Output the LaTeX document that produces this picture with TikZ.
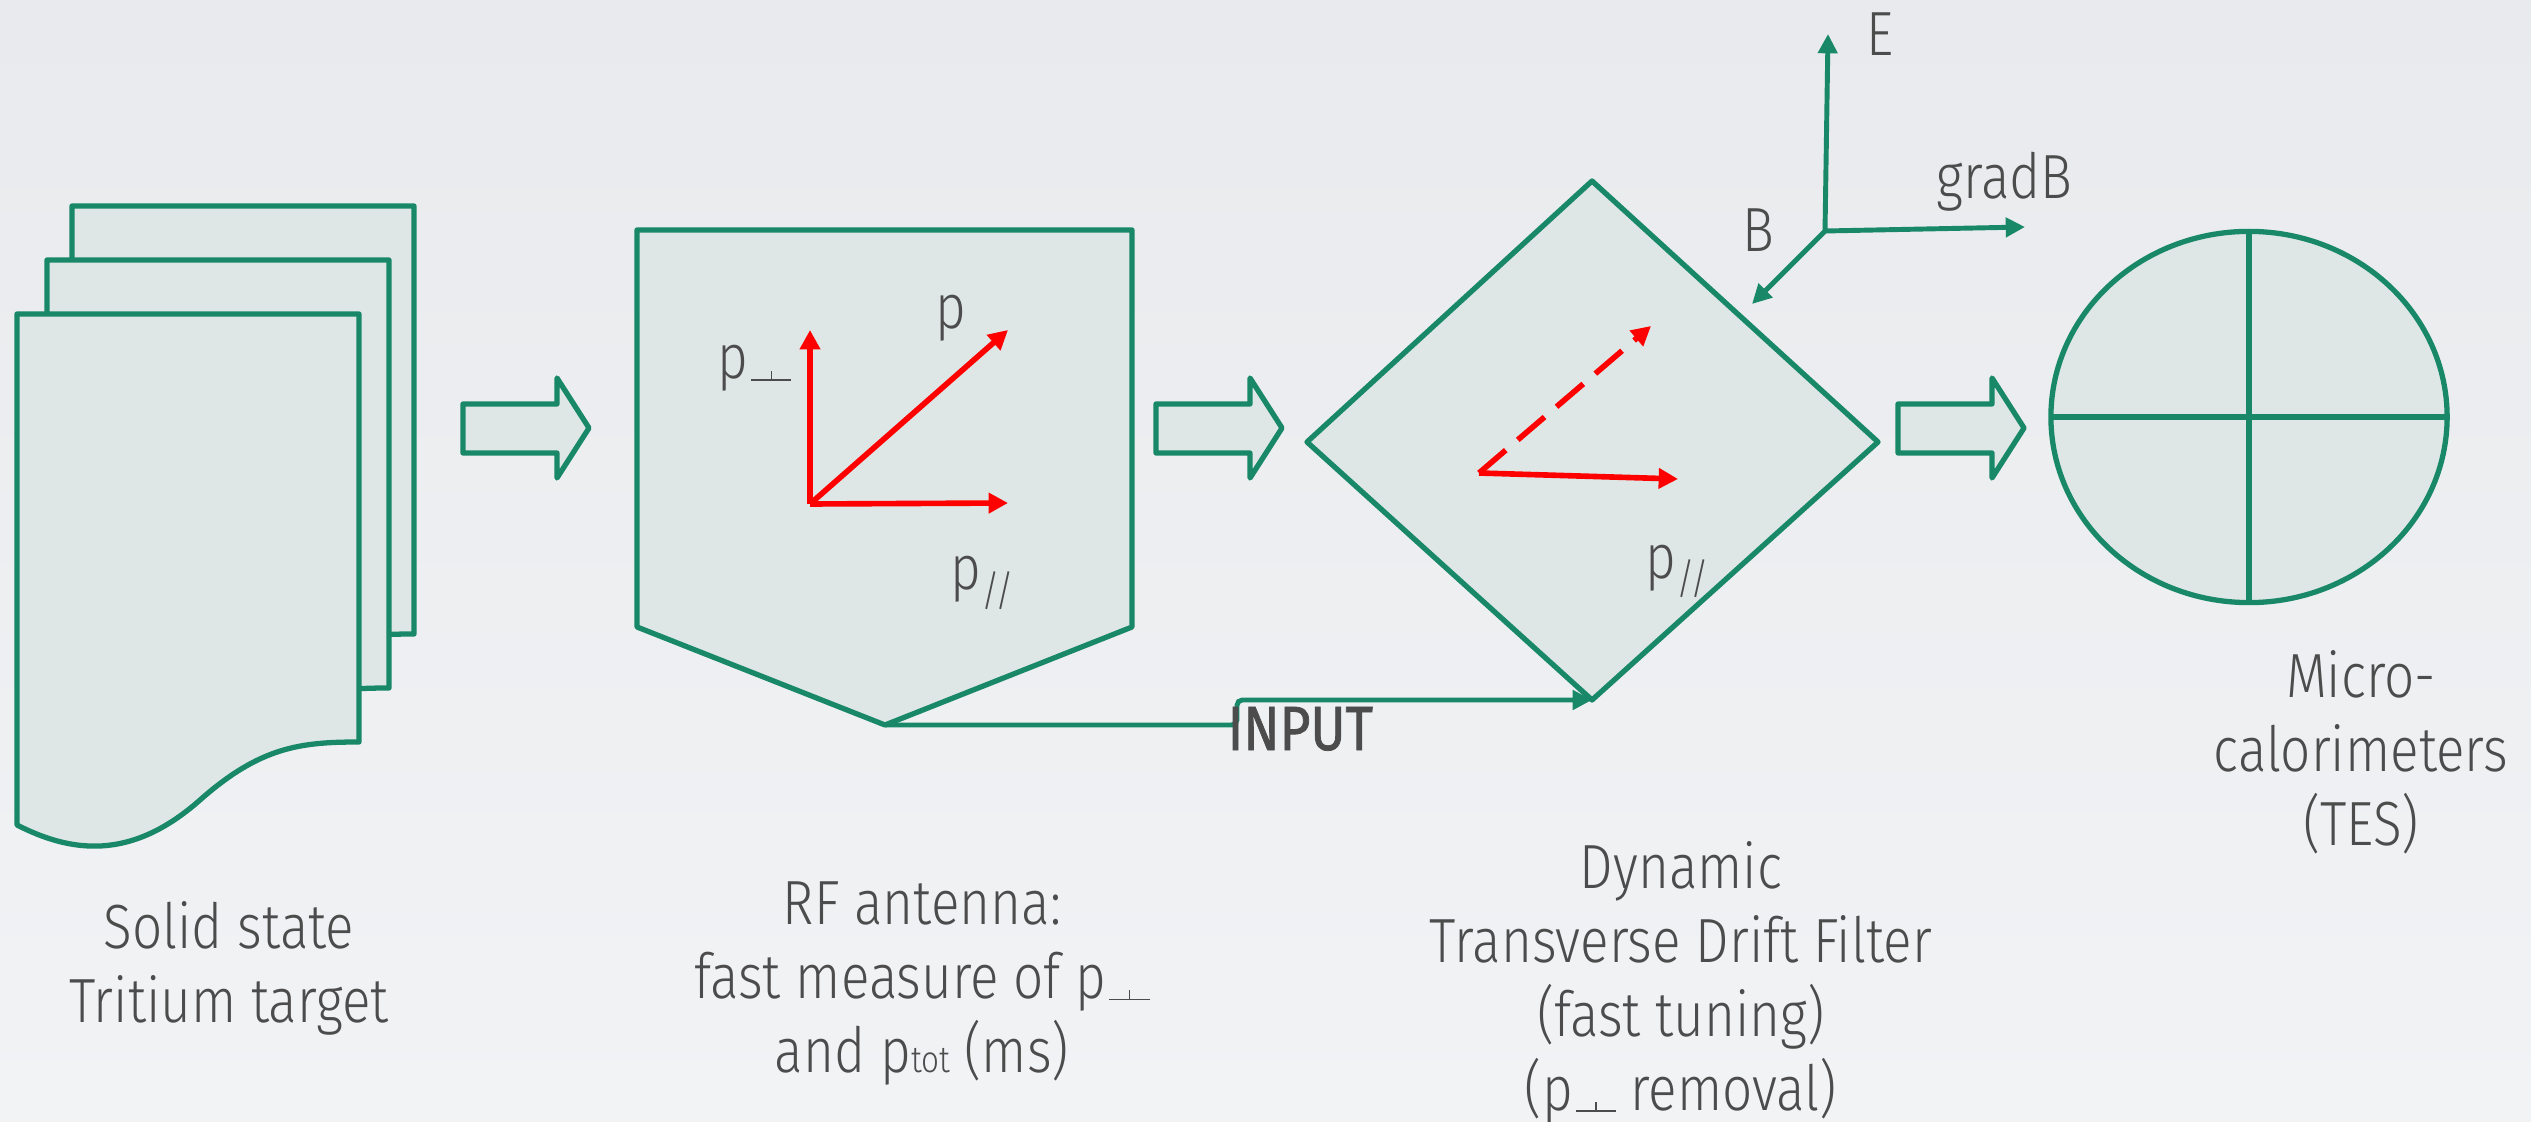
\documentclass[tikz,border=0pt]{standalone}
\usepackage{fontspec}
\setmainfont{Fira Sans Light}[FakeStretch=0.85]
\newfontfamily\medfont{Fira Sans}[FakeStretch=0.85, FakeBold=1.2]
\usepackage{graphicx}
\usetikzlibrary{arrows.meta}
\definecolor{tgreen}{RGB}{24,136,104}
\definecolor{tfill}{RGB}{222,231,229}
\definecolor{tred}{RGB}{255,0,0}
\definecolor{tgray}{RGB}{76,76,76}
\definecolor{bgtop}{RGB}{232,234,237}
\definecolor{bgbot}{RGB}{242,243,245}
\newcommand\pperp{\kern0.8pt\raisebox{-0.6pt}{\rlap{\rule{11.4pt}{0.5pt}}\kern5.45pt\rule{0.5pt}{3pt}\kern5.45pt}}
\newcommand\ppar{\raisebox{-4.5pt}{\fontsize{12}{12}\selectfont //}}
\newcommand\ptot{p{\fontsize{10.5}{10.5}\selectfont tot}}
\begin{document}
\begin{tikzpicture}[x=0.01cm,y=-0.01cm,
  shapebox/.style={draw=tgreen, fill=tfill, line width=1.5pt, line join=round},
  redarrow/.style={draw=tred, line width=1.6pt, -{Triangle[length=5.5pt,width=5.6pt]}},
  garrow/.style={draw=tgreen, line width=1.4pt, -{Triangle[length=5.5pt,width=5.4pt]}},
  lbl/.style={text=tgray, font=\fontsize{17.75}{21}\selectfont, inner sep=0pt},
  caption/.style={lbl, align=center, anchor=base}]
\useasboundingbox (0,0) rectangle (2531,1122);
\shade[top color=bgtop, bottom color=bgbot] (0,0) rectangle (2531,1122);

% stacked documents
\foreach \dx/\dy in {55/-108, 30/-54, 0/0}{
  \begin{scope}[shift={(\dx,\dy)}]
    \draw[shapebox] (17,314) -- (359,314) -- (359,742)
      .. controls (300,742) and (260,747) .. (200,800)
      .. controls (130,862) and (70,852) .. (17,825) -- cycle;
  \end{scope}
}

% block arrows
\foreach \sx in {0, 693, 1435}{
  \begin{scope}[shift={(\sx,0)}]
    \draw[shapebox] (463,404) -- (557,404) -- (557,378) -- (589,428)
      -- (557,478) -- (557,453) -- (463,453) -- cycle;
  \end{scope}
}

% RF antenna pentagon
\draw[shapebox] (637,230) -- (1132,230) -- (1132,627) -- (885,725) -- (637,627) -- cycle;
\coordinate (pentTip) at (885,725);
\coordinate (o1) at (810,504);
\coordinate (pperpT) at (810,330);
\coordinate (pT) at (1008,330);
\coordinate (pparT) at (1008,503);
\draw[redarrow] (o1) -- (pperpT);
\draw[redarrow] (o1) -- (pT);
\draw[redarrow] (o1) -- (pparT);
\node[lbl, anchor=base west] (lpperp) at (717,379) {p\pperp};
\node[lbl, anchor=base west] (lp) at (935,329) {p};
\node[lbl, anchor=base west] (lppar) at (950,590) {p\ppar};

% diamond filter
\draw[shapebox] (1307,442) -- (1592,181) -- (1878,442) -- (1592,700) -- cycle;
\coordinate (diaBot) at (1592,700);
\coordinate (o2) at (1479,473);
\coordinate (dashT) at (1651,326);
\coordinate (solT) at (1678,479);
\draw[redarrow, dash pattern=on 10pt off 4.5pt] (o2) -- (dashT);
\draw[redarrow] (o2) -- (solT);
\node[lbl, anchor=base west] (lppar2) at (1645,578) {p\ppar};

% INPUT connector
\coordinate (stepA) at (1237,725);
\coordinate (stepB) at (1237,700);
\draw[garrow, rounded corners=1.5pt] (pentTip) -- (stepA) -- (stepB) -- (diaBot);
\node[lbl, anchor=base west, font=\medfont\fontsize{17.75}{21}\selectfont] (input) at (1227,750) {INPUT};

% field axes
\coordinate (axo) at (1825,231);
\coordinate (axE) at (1828,34);
\coordinate (axG) at (2025,227);
\coordinate (axB) at (1752,304);
\draw[garrow] (axo) -- (axE);
\draw[garrow] (axo) -- (axG);
\draw[garrow] (axo) -- (axB);
\node[lbl, anchor=base west] (lE) at (1866,56) {E};
\node[lbl, anchor=base west] (lG) at (1936,199) {gradB};
\node[lbl, anchor=base west] (lB) at (1742,252) {B};

% micro-calorimeter
\draw[shapebox] (2249,417) ellipse [x radius=1.98cm, y radius=1.855cm];
\draw[draw=tgreen, line width=1.5pt] (2249,231) -- (2249,602);
\draw[draw=tgreen, line width=1.5pt] (2051,417) -- (2447,417);

% captions (anchor base = last line's baseline)
\node[caption] (cap1) at (229,1022) {Solid state\\Tritium target};
\node[caption] (cap2) at (922,1072) {RF antenna:\\fast measure of p\pperp\\and \ptot{} (ms)};
\node[caption] (cap3) at (1681,1110) {Dynamic\\Transverse Drift Filter\\(fast tuning)\\(p\pperp{} removal)};
\node[caption] (cap4) at (2361,845) {Micro-\\calorimeters\\(TES)};
\end{tikzpicture}
\end{document}
